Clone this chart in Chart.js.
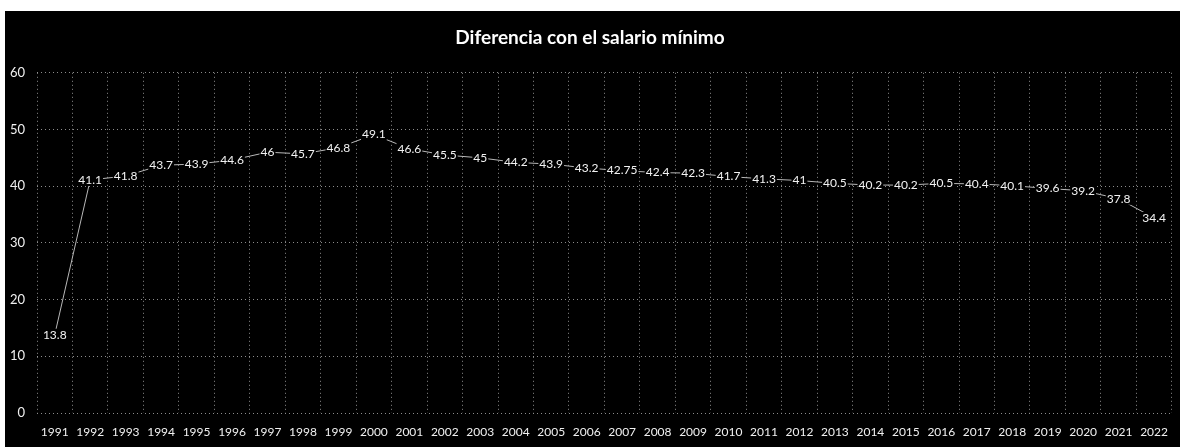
<!DOCTYPE html>
<html>
<head>
<meta charset="utf-8">
<script src="https://cdn.jsdelivr.net/npm/chart.js@4/dist/chart.umd.min.js"></script>
<style>
  body { margin: 0; background: #fff; }
  #wrap { width: 1180px; height: 447px; }
</style>
</head>
<body>
<div id="wrap"><canvas id="myChart" width="1180" height="447"></canvas></div>
<script>
// years and the difference against minimum salary
const years = ['1991', '1992', '1993', '1994', '1995', '1996', '1997', '1998', '1999', '2000',
  '2001', '2002', '2003', '2004', '2005', '2006', '2007', '2008', '2009', '2010',
  '2011', '2012', '2013', '2014', '2015', '2016', '2017', '2018', '2019', '2020',
  '2021', '2022'];
const diferencia = [13.8, 41.1, 41.8, 43.7, 43.9, 44.6, 46, 45.7, 46.8, 49.1,
  46.6, 45.5, 45, 44.2, 43.9, 43.2, 42.75, 42.4, 42.3, 41.7,
  41.3, 41, 40.5, 40.2, 40.2, 40.5, 40.4, 40.1, 39.6, 39.2,
  37.8, 34.4];
const yTicks = [0, 10, 20, 30, 40, 50, 60];

const chartTitle = 'Diferencia con el salario mínimo';

// paints the black chart background (scan leaves a white edge top/left)
const bgPlugin = {
  id: 'bg',
  beforeDraw(chart) {
    const c = chart.ctx;
    c.save();
    c.fillStyle = '#ffffff';
    c.fillRect(0, 0, chart.width, chart.height);
    c.fillStyle = '#000000';
    c.fillRect(5, 11, chart.width - 5, chart.height - 11);
    c.restore();
  }
};

// excel style labels sitting on top of each point
const labelPlugin = {
  id: 'pointLabels',
  afterDatasetsDraw(chart) {
    const c = chart.ctx;
    const meta = chart.getDatasetMeta(0);
    c.save();
    c.font = '12px Lato';
    c.textAlign = 'center';
    c.textBaseline = 'middle';
    meta.data.forEach((pt, i) => {
      const txt = String(diferencia[i]);
      const w = c.measureText(txt).width;
      c.fillStyle = '#000';
      c.fillRect(pt.x - w / 2 - 1, pt.y - 6, w + 2, 12);
      c.fillStyle = '#f2f2f2';
      c.fillText(txt, pt.x, pt.y);
    });
    c.restore();
  }
};

const ctx = document.getElementById('myChart');
new Chart(ctx, {
  type: 'line',
  data: {
    labels: years,
    datasets: [{
      label: 'Diferencia',
      data: diferencia,
      borderColor: '#b8b8b8',
      borderWidth: 1,
      pointRadius: 0,
      tension: 0
    }]
  },
  options: {
    responsive: false,
    animation: false,
    layout: { padding: { left: 0, right: 0, top: 0, bottom: 0 } },
    plugins: {
      legend: { display: false },
      tooltip: { enabled: false },
      title: {
        display: true,
        text: chartTitle,
        color: '#ffffff',
        font: { family: 'Lato', size: 19, weight: 'bold' },
        padding: { top: 26, bottom: 24 }
      }
    },
    scales: {
      x: {
        offset: true,
        grid: { offset: true, color: 'rgba(200,200,200,0.7)', drawTicks: false },
        border: { display: false, dash: [1, 3] },
        ticks: {
          color: '#f0f0f0',
          font: { family: 'Lato', size: 12 },
          padding: 12,
          maxRotation: 0,
          autoSkip: false
        },
        afterFit: s => { s.height = 34; }
      },
      y: {
        min: 0,
        max: 60,
        afterBuildTicks: s => { s.ticks = yTicks.map(v => ({ value: v })); },
        grid: { color: 'rgba(200,200,200,0.7)', drawTicks: false },
        border: { display: false, dash: [1, 3] },
        ticks: {
          color: '#f0f0f0',
          font: { family: 'Lato', size: 13 },
          padding: 12
        },
        afterFit: s => { s.width = 37; }
      }
    }
  },
  plugins: [bgPlugin, labelPlugin]
});
</script>
</body>
</html>
